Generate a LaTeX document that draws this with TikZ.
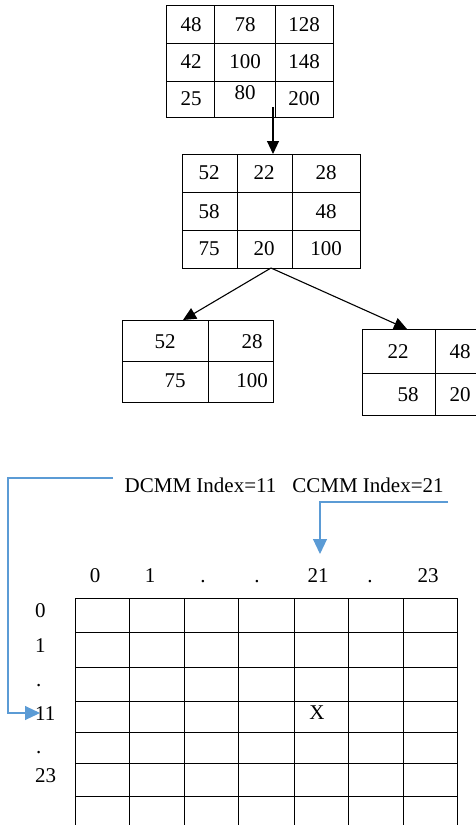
\documentclass[tikz,border=0pt]{standalone}
\usepackage{fontspec}
\setmainfont{Liberation Serif}
\usetikzlibrary{arrows.meta}
\definecolor{lblue}{RGB}{91,155,213}
\begin{document}
\begin{tikzpicture}[x=1pt,y=-1pt,
  gl/.style={line width=1pt,black},
  box/.style={draw,line width=1pt,inner sep=0pt,outer sep=0pt,anchor=north west},
  lbl/.style={inner sep=0pt,font=\fontsize{21}{25}\selectfont},
  blk/.style={line width=1.1pt,-{Triangle[length=13pt,width=12pt]}},
  blu/.style={line width=1.1pt,lblue,-{Triangle[length=15pt,width=14pt]}}]
\useasboundingbox (0,0) rectangle (476,825);

% ---- top grid
\node[box,minimum width=167pt,minimum height=112pt] (g1) at (166,5) {};
\draw[gl] (214,5) -- (214,117) (275,5) -- (275,117) (166,43) -- (333,43) (166,81) -- (333,81);
\node[lbl] (g1a) at (191,25) {48};
\node[lbl] (g1b) at (245,25) {78};
\node[lbl] (g1c) at (304,25) {128};
\node[lbl] (g1d) at (191,62) {42};
\node[lbl] (g1e) at (245,62) {100};
\node[lbl] (g1f) at (304,62) {148};
\node[lbl] (g1g) at (191,99) {25};
\node[lbl] (g1h) at (245,93) {80};
\node[lbl] (g1i) at (304,99) {200};

% ---- middle grid
\node[box,minimum width=178pt,minimum height=114pt] (g2) at (182,154) {};
\draw[gl] (237,154) -- (237,268) (292,154) -- (292,268) (182,192) -- (360,192) (182,230) -- (360,230);
\node[lbl] (g2a) at (209,173) {52};
\node[lbl] (g2b) at (264,173) {22};
\node[lbl] (g2c) at (326,173) {28};
\node[lbl] (g2d) at (209,212) {58};
\node[lbl] (g2f) at (326,212) {48};
\node[lbl] (g2g) at (209,249) {75};
\node[lbl] (g2h) at (264,249) {20};
\node[lbl] (g2i) at (326,249) {100};

\coordinate (a1) at (273,107);
\draw[blk] (a1) -- (a1 |- g2.north);

% ---- bottom left grid
\node[box,minimum width=151pt,minimum height=82pt] (g3) at (122,320) {};
\draw[gl] (208,320) -- (208,402) (122,361) -- (273,361);
\node[lbl] (g3a) at (165,342) {52};
\node[lbl] (g3b) at (252,342) {28};
\node[lbl] (g3c) at (175,381) {75};
\node[lbl] (g3d) at (252,381) {100};

% ---- bottom right grid (cut at the right edge)
\coordinate (g4) at (362,329);
\draw[gl] (476,329) -- (g4) -- (362,415) -- (476,415) (435,329) -- (435,415) (362,373) -- (476,373);
\node[lbl] (g4a) at (398,352) {22};
\node[lbl] (g4b) at (460,352) {48};
\node[lbl] (g4c) at (408,395) {58};
\node[lbl] (g4d) at (460,395) {20};

\coordinate (t3) at (183,320);
\coordinate (t4) at (407,329);
\draw[blk] (g2.south) -- (t3);
\draw[blk] (g2.south) -- (t4);

% ---- index labels and blue arrows
\node[lbl] (dcmm) at (200.5,485) {DCMM Index=11};
\node[lbl] (ccmm) at (368,485) {CCMM Index=21};
\coordinate (d0) at (113,478);
\coordinate (d1) at (40,713);
\draw[blu] (d0) -- (8,478) -- (8,713) -- (d1);
\coordinate (c0) at (448,502);
\coordinate (c1) at (320,554);
\draw[blu] (c0) -- (320,502) -- (c1);

% ---- column labels
\node[lbl,anchor=base] (c0l) at (95,582) {0};
\node[lbl,anchor=base] (c1l) at (150,582) {1};
\node[lbl,anchor=base] (c2l) at (203,582) {.};
\node[lbl,anchor=base] (c3l) at (257,582) {.};
\node[lbl,anchor=base] (c4l) at (318,582) {21};
\node[lbl,anchor=base] (c5l) at (370,582) {.};
\node[lbl,anchor=base] (c6l) at (428,582) {23};

% ---- row labels
\node[lbl,anchor=base west] (r0) at (35,617) {0};
\node[lbl,anchor=base west] (r1) at (35,652) {1};
\node[lbl,anchor=base west] (r2) at (36,686) {.};
\node[lbl,anchor=base west] (r3) at (35,720) {11};
\node[lbl,anchor=base west] (r4) at (36,753) {.};
\node[lbl,anchor=base west] (r5) at (35,782) {23};

% ---- big grid
\foreach \x in {75,129,184,238,294,348,403,457}
  \draw[gl] (\x,598) -- (\x,825);
\foreach \y in {598,632,667,701,732,763,796}
  \draw[gl] (75,\y) -- (457,\y);
\node[lbl] (xm) at (317,713) {X};
\end{tikzpicture}
\end{document}
